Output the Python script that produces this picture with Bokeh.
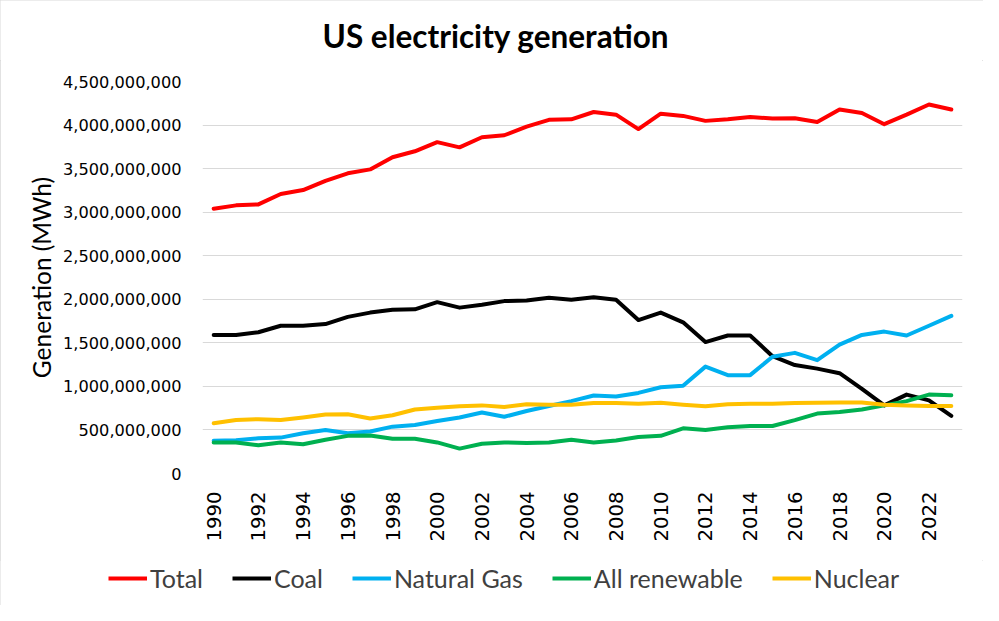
import math
from bokeh.plotting import figure
from bokeh.layouts import column, row
from bokeh.models import (Range1d, FixedTicker, NumeralTickFormatter, BasicTickFormatter,
                          Legend, LegendItem, Label)
from bokeh.embed import file_html
from bokeh.resources import INLINE

years = list(range(1990, 2024))

total_m = [3039, 3078, 3089, 3209, 3254, 3360, 3446, 3491, 3631, 3699, 3804, 3744, 3860, 3883,
           3981, 4060, 4066, 4150, 4119, 3954, 4131, 4105, 4048, 4066, 4093, 4074, 4077, 4036,
           4179, 4138, 4010, 4119, 4236, 4179]
coal_m = [1591, 1591, 1622, 1696, 1696, 1715, 1798, 1847, 1881, 1885, 1967, 1904, 1938, 1979,
          1986, 2017, 1994, 2024, 1994, 1761, 1847, 1735, 1509, 1584, 1584, 1347, 1245, 1204,
          1151, 971, 782, 906, 839, 662]
gas_m = [376, 381, 404, 412, 463, 500, 463, 482, 538, 556, 602, 643, 700, 651,
         718, 775, 831, 895, 884, 925, 990, 1008, 1227, 1129, 1129, 1340, 1385, 1301,
         1479, 1591, 1629, 1584, 1696, 1809]
renew_m = [357, 357, 324, 357, 335, 387, 432, 437, 398, 398, 357, 286, 342, 357,
           350, 357, 387, 357, 380, 418, 432, 519, 500, 530, 545, 545, 613, 688,
           707, 734, 782, 831, 906, 899]
nuclear_m = [576, 613, 624, 613, 643, 677, 681, 632, 669, 734, 756, 771, 782, 764,
             794, 790, 790, 809, 809, 801, 813, 790, 771, 794, 801, 801, 809, 813,
             816, 816, 790, 782, 775, 775]

title_text = "US electricity generation"
y_label = "Generation (MWh)"
series_names = ["Total", "Coal", "Natural Gas", "All renewable", "Nuclear"]
series_colors = ["#FF0000", "#000000", "#00B0F0", "#00B050", "#FFC000"]
series_values = [total_m, coal_m, gas_m, renew_m, nuclear_m]

x_ticks = list(range(1990, 2023, 2))
y_ticks = [i * 500_000_000 for i in range(10)]

W = 983


def strip(height, x_range, y_range):
    f = figure(width=W, height=height, output_backend="svg", toolbar_location=None,
               x_range=x_range, y_range=y_range, x_axis_type=None, y_axis_type=None,
               min_border_left=0, min_border_right=0, min_border_top=0, min_border_bottom=0)
    f.outline_line_color = None
    f.xgrid.grid_line_color = None
    f.ygrid.grid_line_color = None
    f.background_fill_color = "white"
    f.border_fill_color = "white"
    return f


# ---- title strip ----
tf = strip(60, Range1d(0, W), Range1d(0, 60))
tf.add_layout(Label(x=322, y=25, text=title_text, text_align="left", text_baseline="alphabetic",
                    text_font="Lato", text_font_size="31.5px", text_font_style="bold",
                    text_color="#000000"))

# ---- main chart ----
p = figure(width=W, height=500, output_backend="svg", toolbar_location=None,
           x_range=Range1d(1989.5, 2023.5), y_range=Range1d(0, 4_500_000_000),
           min_border_left=202, min_border_right=21, min_border_top=21, min_border_bottom=87)
p.outline_line_color = None
p.background_fill_color = "white"
p.border_fill_color = "white"

for name, color, vals in zip(series_names, series_colors, series_values):
    p.line(years, [v * 1_000_000 for v in vals], line_color=color, line_width=4,
           line_join="round", line_cap="round")

p.xgrid.grid_line_color = None
p.ygrid.grid_line_color = "#d9d9d9"
p.ygrid.grid_line_width = 1
p.ygrid.ticker = FixedTicker(ticks=y_ticks)

p.yaxis.ticker = FixedTicker(ticks=y_ticks)
p.yaxis.formatter = NumeralTickFormatter(format="0,0")
p.yaxis.axis_line_color = None
p.yaxis.major_tick_line_color = None
p.yaxis.minor_tick_line_color = None
p.yaxis.major_tick_out = 0
p.yaxis.major_tick_in = 0
p.yaxis.major_label_standoff = 21
p.yaxis.major_label_text_font = "DejaVu Sans"
p.yaxis.major_label_text_font_size = "16.2px"
p.yaxis.major_label_text_color = "#000000"
p.yaxis.axis_label = y_label
p.yaxis.axis_label_text_font = "Lato"
p.yaxis.axis_label_text_font_size = "24.5px"
p.yaxis.axis_label_text_font_style = "normal"
p.yaxis.axis_label_text_color = "#000000"
p.yaxis.axis_label_standoff = 4

p.xaxis.ticker = FixedTicker(ticks=x_ticks)
p.xaxis.formatter = BasicTickFormatter(use_scientific=False)
p.xaxis.axis_line_color = None
p.xaxis.major_tick_line_color = None
p.xaxis.minor_tick_line_color = None
p.xaxis.major_tick_out = 0
p.xaxis.major_tick_in = 0
p.xaxis.major_label_standoff = 18
p.xaxis.major_label_orientation = math.pi / 2
p.xaxis.major_label_text_font = "DejaVu Sans"
p.xaxis.major_label_text_font_size = "19.7px"
p.xaxis.major_label_text_color = "#000000"

# ---- legend strip (same series, outside the strip's visible range) ----
lg = strip(45, Range1d(1989.5, 2023.5), Range1d(-2, -1))
items = []
for name, color, vals in zip(series_names, series_colors, series_values):
    r = lg.line(years, [v * 1_000_000 for v in vals], line_color=color, line_width=4,
                line_cap="butt")
    items.append(LegendItem(label=name, renderers=[r]))

legend = Legend(items=items, orientation="horizontal", location=(108, 12),
                glyph_width=39, glyph_height=20, label_standoff=3, spacing=29,
                padding=0, margin=0, border_line_color=None, background_fill_alpha=0,
                label_text_font="Lato", label_text_font_size="25px", label_text_color="#404040")
lg.add_layout(legend, "center")

layout = column(row(tf), p, row(lg), spacing=0,
                styles={"outline": "1px solid #d9d9d9", "outline-offset": "-1px"})
open("out.html", "w").write(file_html(layout, INLINE))
